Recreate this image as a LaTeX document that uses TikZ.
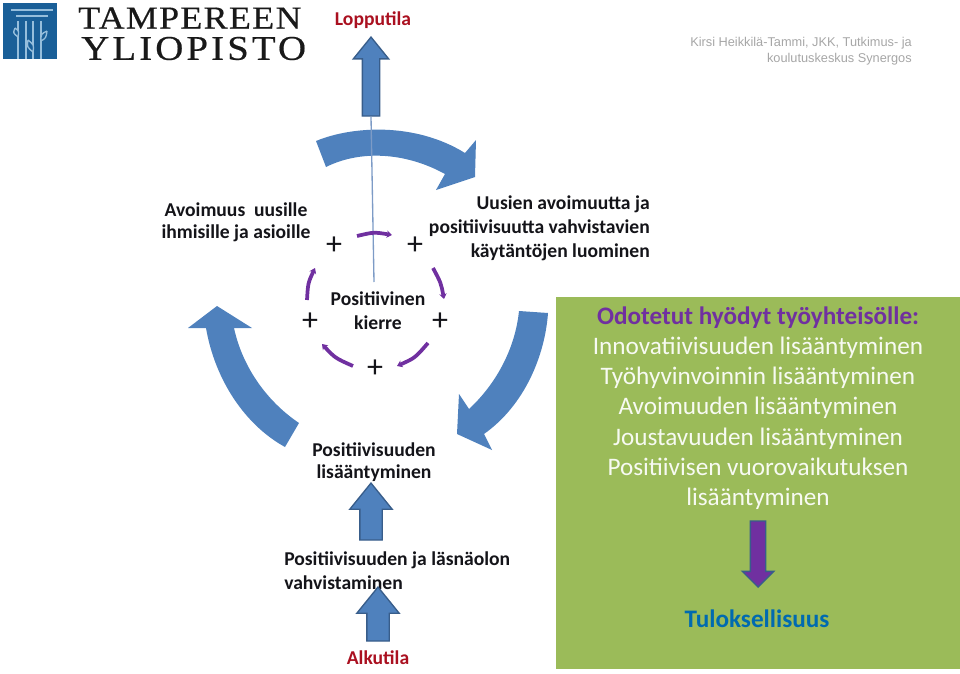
\documentclass[tikz,border=0pt]{standalone}
\usepackage{fontspec}
\setmainfont{Carlito}
\newfontfamily\logofonta[FakeStretch=1.12,FakeBold=0.5,LetterSpace=4.3]{Liberation Serif}
\newfontfamily\logofontb[FakeStretch=1.12,FakeBold=0.5,LetterSpace=9]{Liberation Serif}
\newfontfamily\headfont{Liberation Sans}
\usetikzlibrary{shapes.arrows, arrows.meta, positioning, calc}
\definecolor{arcblue}{RGB}{79,129,189}
\definecolor{edgeblue}{RGB}{56,93,138}
\definecolor{thinblue}{RGB}{125,155,198}
\definecolor{mypurple}{RGB}{112,48,160}
\definecolor{boxgreen}{RGB}{155,187,89}
\definecolor{logoblue}{RGB}{26,95,152}
\definecolor{logopale}{RGB}{150,190,220}
\definecolor{myred}{RGB}{170,16,32}
\definecolor{myteal}{RGB}{0,106,176}
\definecolor{mygrey}{RGB}{166,166,166}
\definecolor{mydark}{RGB}{20,20,25}
\tikzset{
  blockarrow/.style={single arrow, draw=edgeblue, fill=arcblue, line width=1pt,
    anchor=tip, shape border rotate=90},
  arcarrow/.style={fill=arcblue, draw=none},
  looparrow/.style={-{Stealth[length=4pt,width=5.5pt]}, line width=2.8pt, color=mypurple},
  boldtext/.style={font=\bfseries\fontsize{14.7}{18}\selectfont, align=center, inner sep=0pt, text=mydark},
  righttext/.style={boldtext, align=right, anchor=north east},
  plusmark/.style={font=\fontsize{24}{24}\selectfont, inner sep=0pt, text=mydark},
  bodytext/.style={font=\fontsize{18.9}{22.7}\selectfont, align=center, inner sep=0pt, text=white!92!boxgreen},
  logotext/.style={inner sep=0pt, anchor=west, text=black!90},
  logoline/.style={logopale, line width=1pt}
}
\begin{document}
\begin{tikzpicture}[x=0.75pt, y=-0.75pt]
  \useasboundingbox (0,0) rectangle (960,674);

  \fill[boxgreen] (556,297) rectangle (960,669);

  \fill[logoblue] (3,3) rectangle (57,59);
  \draw[logoline] (11,10) -- (53,10);
  \draw[logoline] (16,16) -- (48,16);
  \foreach \colx in {18,26,33,41}
    \draw[logoline] (\colx,21) -- (\colx,59);
  \draw[logoline, fill=logoblue] (15,28) .. controls (13,33) .. (18,37) .. controls (19,31) .. (15,28);
  \draw[logoline, fill=logoblue] (28,40) .. controls (27,47) .. (33,52) .. controls (34,45) .. (28,40);
  \draw[logoline, fill=logoblue] (47,31) .. controls (41,34) .. (41,41) .. controls (46,38) .. (47,31);
  \node[logotext, font=\logofonta\fontsize{24}{24}\selectfont] (tampere) at (78,18) {TAMPEREEN};
  \node[logotext, font=\logofontb\fontsize{26}{26}\selectfont] (yliopisto) at (81,48.5) {YLIOPISTO};

  \node[boldtext, text=myred] (lopputila) at (373,20) {Lopputila};
  \node[font=\headfont\fontsize{9.57}{12}\selectfont, align=right, inner sep=0pt, anchor=north east, text=mygrey] (author) at (912,36.5)
    {Kirsi Heikkilä-Tammi, JKK, Tutkimus- ja\\koulutuskeskus Synergos};

  % curved arrows of the big circle
  \path[arcarrow] (316,141) .. controls (352,126) and (415,122) .. (465,153) -- (476,140)
    -- (475,177) -- (436,190) -- (445,174) .. controls (405,152) and (360,150) .. (326,167) -- cycle;
  \path[arcarrow] (519,311) .. controls (515,350) and (495,385) .. (469,409) -- (459,394)
    -- (457,434) -- (492,450) -- (484,434) .. controls (525,405) and (545,355) .. (548,313) -- cycle;
  \path[arcarrow] (299,423) .. controls (265,400) and (242,365) .. (234,328) -- (252,328)
    -- (217,306) -- (188,328) -- (206,328) .. controls (215,380) and (245,425) .. (285,447) -- cycle;

  \node[blockarrow, inner sep=6pt, minimum height=59.25pt, single arrow head extend=6.75pt, single arrow tip angle=78] (toparrow) at (371,36) {};
  \coordinate (kierretop) at (374,282);
  \draw[thinblue, line width=1pt] (toparrow.tail) -- (kierretop);

  \node[boldtext, line width=0pt, font=\bfseries\fontsize{14.7}{16.5}\selectfont] (avoimuus) at (236,222) {Avoimuus\ \ uusille\\ihmisille ja asioille};
  \node[righttext] (uusien) at (650,195.5) {Uusien avoimuutta ja\\positiivisuutta vahvistavien\\käytäntöjen luominen};
  \node[boldtext] (kierre) at (378,311) {Positiivinen\\kierre};
  \node[boldtext, font=\bfseries\fontsize{14.7}{16}\selectfont] (lisays) at (374,462) {Positiivisuuden\\lisääntyminen};
  \node[boldtext, anchor=north west, align=left] (lasnaolo) at (284,551) {Positiivisuuden ja läsnäolon\\vahvistaminen};
  \node[boldtext, text=myred] (alkutila) at (378,658) {Alkutila};

  \node[plusmark] (plusa) at (334,246) {+};
  \node[plusmark] (plusb) at (415,246) {+};
  \node[plusmark] (plusc) at (440,322) {+};
  \node[plusmark] (plusd) at (375,369) {+};
  \node[plusmark] (pluse) at (310,322) {+};

  \coordinate (pa) at (357,236);
  \coordinate (pb) at (392,235);
  \coordinate (pc) at (433,268);
  \coordinate (pd) at (444,299);
  \coordinate (pe) at (428,343);
  \coordinate (pf) at (397,366);
  \coordinate (pg) at (353,366);
  \coordinate (ph) at (322,344);
  \coordinate (pi) at (307,300);
  \coordinate (pj) at (315,268);
  \draw[looparrow] (pa) .. controls (374,232) .. (pb);
  \draw[looparrow] (pc) .. controls (441,283) .. (pd);
  \draw[looparrow] (pe) .. controls (415,358) .. (pf);
  \draw[looparrow] (pg) .. controls (335,358) .. (ph);
  \draw[looparrow] (pi) .. controls (308,283) .. (pj);

  \node[blockarrow, inner sep=7.875pt, minimum height=42.75pt, single arrow head extend=7.5pt, single arrow tip angle=78] (midarrow) at (371,482) {};
  \node[blockarrow, inner sep=7.875pt, minimum height=40.5pt, single arrow head extend=7.5pt, single arrow tip angle=78] (lowarrow) at (378,586) {};

  \node[bodytext] (hyodyt) at (758,408) {\textcolor{mypurple}{\bfseries Odotetut hyödyt työyhteisölle:}\\Innovatiivisuuden lisääntyminen\\Työhyvinvoinnin lisääntyminen\\Avoimuuden lisääntyminen\\Joustavuuden lisääntyminen\\Positiivisen vuorovaikutuksen\\lisääntyminen};
  \node[blockarrow, fill=mypurple, shape border rotate=270, inner sep=5.25pt, minimum height=49.5pt, single arrow head extend=6pt, single arrow tip angle=90] (downarrow) at (758,588) {};
  \node[bodytext, font=\bfseries\fontsize{18.9}{22}\selectfont, text=myteal] (tulos) at (757,619) {Tuloksellisuus};
\end{tikzpicture}
\end{document}
